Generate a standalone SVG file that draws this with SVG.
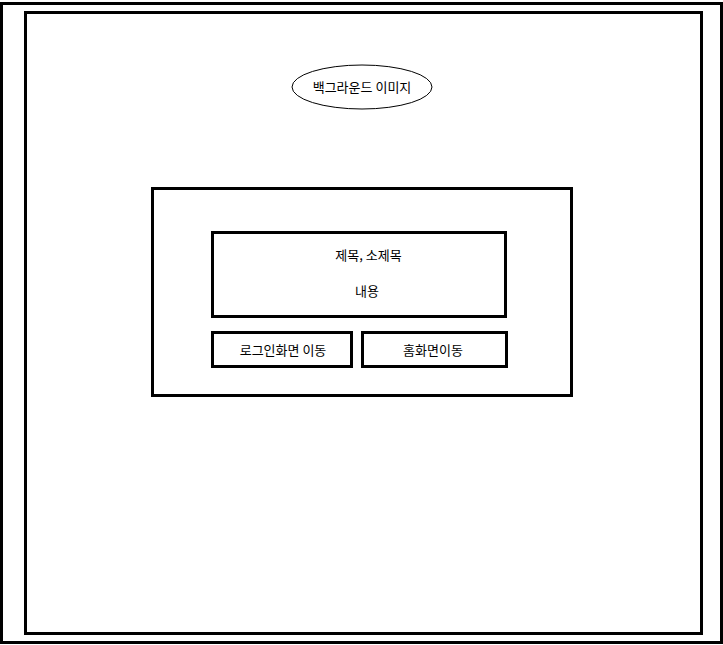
<svg xmlns="http://www.w3.org/2000/svg" width="723" height="645" viewBox="0 0 723 645">
<style>
.box{fill:none;stroke:#000;stroke-width:3}
.t{font-family:"Noto Sans CJK KR","Liberation Sans",sans-serif;font-size:13px;fill:#000;text-anchor:middle}
</style>
<rect x="0" y="0" width="723" height="645" fill="#fff"/>
<g id="frame-outer"><rect class="box" x="1.5" y="3.5" width="720" height="639"/></g>
<g id="frame-inner"><rect class="box" x="25.5" y="12.5" width="676" height="621"/></g>
<g id="background-image">
<ellipse cx="362" cy="87" rx="70" ry="22" fill="none" stroke="#000" stroke-width="1"/>
<text class="t" x="362" y="92">백그라운드 이미지</text>
</g>
<g id="panel"><rect class="box" x="152.5" y="188.5" width="419" height="207"/></g>
<g id="content">
<rect class="box" x="212.5" y="232.5" width="293" height="84"/>
<text class="t" x="368.5" y="260">제목, 소제목</text>
<text class="t" x="367" y="296">내용</text>
</g>
<g id="btn-login">
<rect class="box" x="212.5" y="332.5" width="139" height="34"/>
<text class="t" x="283" y="355">로그인화면 이동</text>
</g>
<g id="btn-home">
<rect class="box" x="362.5" y="332.5" width="144" height="34"/>
<text class="t" x="433" y="355">홈화면이동</text>
</g>
<g id="connectors"></g>
</svg>
